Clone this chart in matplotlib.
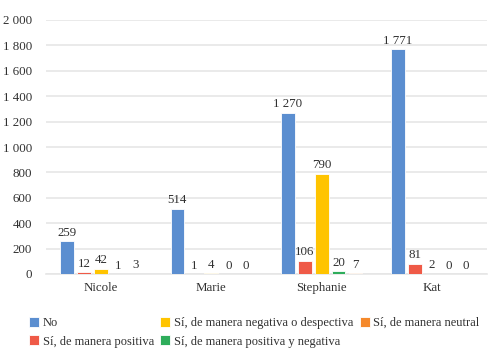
import matplotlib
matplotlib.use("Agg")
import matplotlib.pyplot as plt
import numpy as np

categories = ["Nicole", "Marie", "Stephanie", "Kat"]
series_names = ["No", "Sí, de manera positiva", "Sí, de manera negativa o despectiva",
                "Sí, de manera positiva y negativa", "Sí, de manera neutral"]
no_vals = [259, 514, 1270, 1771]
pos_vals = [12, 1, 106, 81]
neg_vals = [42, 4, 790, 2]
posneg_vals = [1, 0, 20, 0]
neutral_vals = [3, 0, 7, 0]
yticks = [0, 200, 400, 600, 800, 1000, 1200, 1400, 1600, 1800, 2000]

colors = ["#5B8ED0", "#EF5A47", "#FFC400", "#2EAD5B", "#F5892B"]
all_vals = [no_vals, pos_vals, neg_vals, posneg_vals, neutral_vals]

plt.rcParams['font.family'] = ['Liberation Serif', 'DejaVu Serif']
fig = plt.figure(figsize=(4.94, 3.62), dpi=100)
ax = fig.add_axes([46/494, 1-274/362, 441/494, 254/362])

x = np.arange(len(categories))
step = 0.154
width = 0.125
for i, (name, vals, c) in enumerate(zip(series_names, all_vals, colors)):
    pos = x + (i - 2) * step
    ax.bar(pos, vals, width, color=c, label=name, edgecolor="white", linewidth=0.6, zorder=3)
    for p, v in zip(pos, vals):
        lbl = f"{v:,}".replace(",", " ")
        ax.text(p, v + 18, lbl, ha="center", va="bottom", fontsize=9.3, color="#303030", zorder=4)

ax.set_xlim(-0.5, len(categories) - 0.5)
ax.set_ylim(0, 2000)
ax.set_yticks(yticks)
ax.set_yticklabels([f"{t:,}".replace(",", " ") for t in yticks], fontsize=9.3, color="#303030")
ax.set_xticks(x)
ax.set_xticklabels(categories, fontsize=9.3, color="#303030")
ax.tick_params(axis="both", length=0, pad=6)
ax.tick_params(axis="y", pad=10)
ax.yaxis.grid(True, color="#E6E6E6", linewidth=1.2, zorder=0)
for s in ["top", "right", "left"]:
    ax.spines[s].set_visible(False)
ax.spines["bottom"].set_color("#E6E6E6")
ax.spines["bottom"].set_linewidth(1.2)

fig.legend(loc="upper left", bbox_to_anchor=(29/494, 1-317/362), ncol=3, frameon=False,
           fontsize=9, handlelength=0.8, handleheight=0.8, handletextpad=0.3,
           columnspacing=0.5, labelspacing=0.5, borderaxespad=0, borderpad=0,
           labelcolor="#303030")

fig.savefig("out.png", dpi=100)
